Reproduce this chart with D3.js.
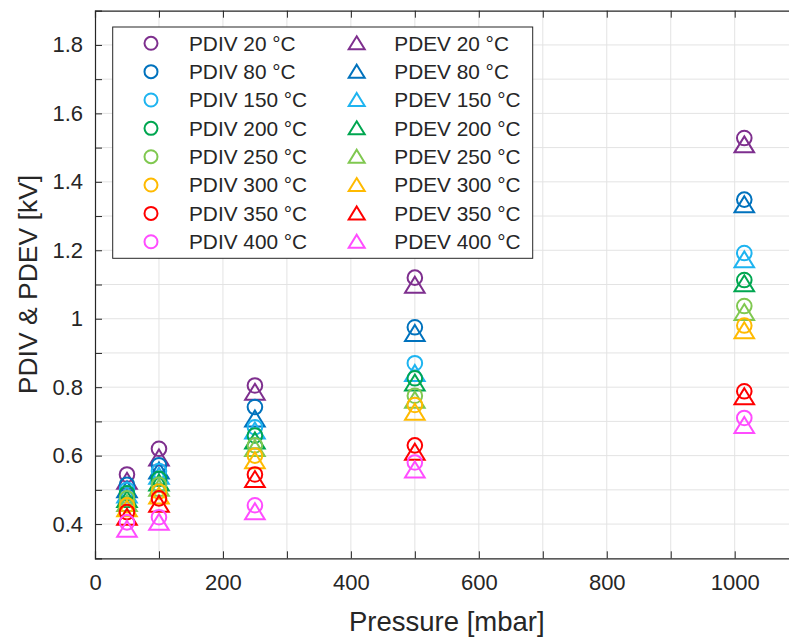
<!DOCTYPE html>
<html><head><meta charset="utf-8">
<script src="https://cdn.jsdelivr.net/npm/d3@7"></script>
<style>body{margin:0;background:#fff;} svg{display:block;}</style>
</head><body>
<script>
const pressures = [50, 100, 250, 500, 1015];
const temps = ["20", "80", "150", "200", "250", "300", "350", "400"];
const colors = ["#7E2F8E", "#0072BD", "#1EB4F0", "#00A650", "#80C850", "#FFBA00", "#FF0000", "#FF4CFF"];
// PDIV [kV] per temperature, values at pressures above
const pdiv = [
  [0.545, 0.620, 0.805, 1.120, 1.528],
  [0.515, 0.572, 0.742, 0.975, 1.348],
  [0.500, 0.555, 0.683, 0.870, 1.192],
  [0.490, 0.532, 0.659, 0.826, 1.113],
  [0.475, 0.515, 0.630, 0.775, 1.037],
  [0.455, 0.495, 0.600, 0.748, 0.980],
  [0.435, 0.475, 0.545, 0.630, 0.788],
  [0.405, 0.420, 0.455, 0.580, 0.710]
];
const pdev = [
  [0.525, 0.593, 0.785, 1.098, 1.508],
  [0.500, 0.555, 0.707, 0.957, 1.333],
  [0.485, 0.540, 0.672, 0.840, 1.172],
  [0.472, 0.520, 0.643, 0.812, 1.102],
  [0.460, 0.505, 0.621, 0.762, 1.018],
  [0.445, 0.482, 0.585, 0.727, 0.965],
  [0.420, 0.458, 0.530, 0.610, 0.772],
  [0.385, 0.405, 0.436, 0.558, 0.688]
];
const xTicks = d3.range(0, 1101, 100);
const xLabels = [0, 200, 400, 600, 800, 1000];
const yTicks = d3.range(3, 20).map(d => d / 10);
const yLabels = [0.4, 0.6, 0.8, 1, 1.2, 1.4, 1.6, 1.8];

const W = 789, H = 639;
const L = 95, T = 10.7, B = 558.3;
const x = d3.scaleLinear().domain([0, 1100]).range([L, L + 1100 * 0.6397]);
const y = d3.scaleLinear().domain([0.3, 1.9]).range([B, T]);
const axisColor = "#262626";
const font = "'Liberation Sans', Arial, sans-serif";

const svg = d3.select("body").append("svg").attr("width", W).attr("height", H);
const clip = svg.append("clipPath").attr("id", "pc").append("rect")
  .attr("x", L).attr("y", T).attr("width", x(1100) - L).attr("height", B - T);

// grid
const grid = svg.append("g");
grid.selectAll(".gx").data(xTicks.filter(d => d > 0 && d < 1100)).join("line")
  .attr("x1", d => x(d)).attr("x2", d => x(d)).attr("y1", T).attr("y2", B)
  .attr("stroke", "#e3e3e3").attr("stroke-width", 1);
grid.selectAll(".gy").data(yTicks.filter(d => d > 0.3 && d < 1.9)).join("line")
  .attr("x1", L).attr("x2", x(1100)).attr("y1", d => y(d)).attr("y2", d => y(d))
  .attr("stroke", "#e3e3e3").attr("stroke-width", 1);

// axes
const fmt = d => (xLabels.includes(d) ? String(d) : "");
const xAxis = d3.axisBottom(x).tickValues(xTicks).tickSize(-7).tickPadding(16).tickFormat(fmt);
const gx = svg.append("g").attr("transform", `translate(0,${B})`).call(xAxis);
const xTop = d3.axisTop(x).tickValues(xTicks).tickSize(-7).tickFormat("");
const gxt = svg.append("g").attr("transform", `translate(0,${T})`).call(xTop);
const yAxis = d3.axisLeft(y).tickValues(yTicks).tickSize(-7).tickPadding(12)
  .tickFormat(d => yLabels.some(v => Math.abs(v - d) < 1e-9) ? d3.format("~g")(d) : "");
const gy = svg.append("g").attr("transform", `translate(${L},0)`).call(yAxis);
[gx, gxt, gy].forEach(g => {
  g.select(".domain").attr("stroke", axisColor).attr("stroke-width", 1.2);
  g.selectAll(".tick line").attr("stroke", axisColor).attr("stroke-width", 1);
  g.selectAll("text").attr("fill", axisColor).attr("font-family", font).attr("font-size", 22);
});
gx.selectAll(".tick line").filter(d => d === 0 || d === 1100).remove();
gxt.selectAll(".tick line").filter(d => d === 0 || d === 1100).remove();
gy.selectAll(".tick line").filter(d => d <= 0.3 || d >= 1.9).remove();

// labels
svg.append("text").attr("x", x(550)).attr("y", 631).attr("text-anchor", "middle")
  .attr("font-family", font).attr("font-size", 27.5).attr("fill", axisColor).text("Pressure [mbar]");
svg.append("text").attr("transform", `translate(37,${(T + B) / 2}) rotate(-90)`).attr("text-anchor", "middle")
  .attr("font-family", font).attr("font-size", 26.5).attr("fill", axisColor).text("PDIV & PDEV [kV]");

// markers
const tri = "M0,-8.5L9.8,7.5L-9.8,7.5Z";
const legTri = "M0,-7L8,6L-8,6Z";
const marks = svg.append("g").attr("clip-path", "url(#pc)");
temps.forEach((t, i) => {
  marks.append("g").selectAll("circle").data(pressures.map((p, j) => [p, pdiv[i][j]])).join("circle")
    .attr("cx", d => x(d[0])).attr("cy", d => y(d[1])).attr("r", 7.3)
    .attr("fill", "none").attr("stroke", colors[i]).attr("stroke-width", 2);
  marks.append("g").selectAll("path").data(pressures.map((p, j) => [p, pdev[i][j]])).join("path")
    .attr("d", tri).attr("transform", d => `translate(${x(d[0])},${y(d[1])})`)
    .attr("fill", "none").attr("stroke", colors[i]).attr("stroke-width", 2).attr("stroke-linejoin", "miter");
});

// legend
const lg = svg.append("g");
lg.append("rect").attr("x", 112.7).attr("y", 27).attr("width", 420).attr("height", 231.3)
  .attr("fill", "#fff").attr("stroke", axisColor).attr("stroke-width", 1);
temps.forEach((t, i) => {
  const yy = 43.3 + i * 28.35;
  lg.append("circle").attr("cx", 151).attr("cy", yy).attr("r", 6.5)
    .attr("fill", "none").attr("stroke", colors[i]).attr("stroke-width", 2);
  lg.append("text").attr("x", 189).attr("y", yy + 7.3).attr("font-family", font).attr("font-size", 20.8)
    .attr("fill", axisColor).text(`PDIV ${t} °C`);
  lg.append("path").attr("d", legTri).attr("transform", `translate(356.7,${yy})`)
    .attr("fill", "none").attr("stroke", colors[i]).attr("stroke-width", 2);
  lg.append("text").attr("x", 394.3).attr("y", yy + 7.3).attr("font-family", font).attr("font-size", 20.8)
    .attr("fill", axisColor).text(`PDEV ${t} °C`);
});
</script>
</body></html>
